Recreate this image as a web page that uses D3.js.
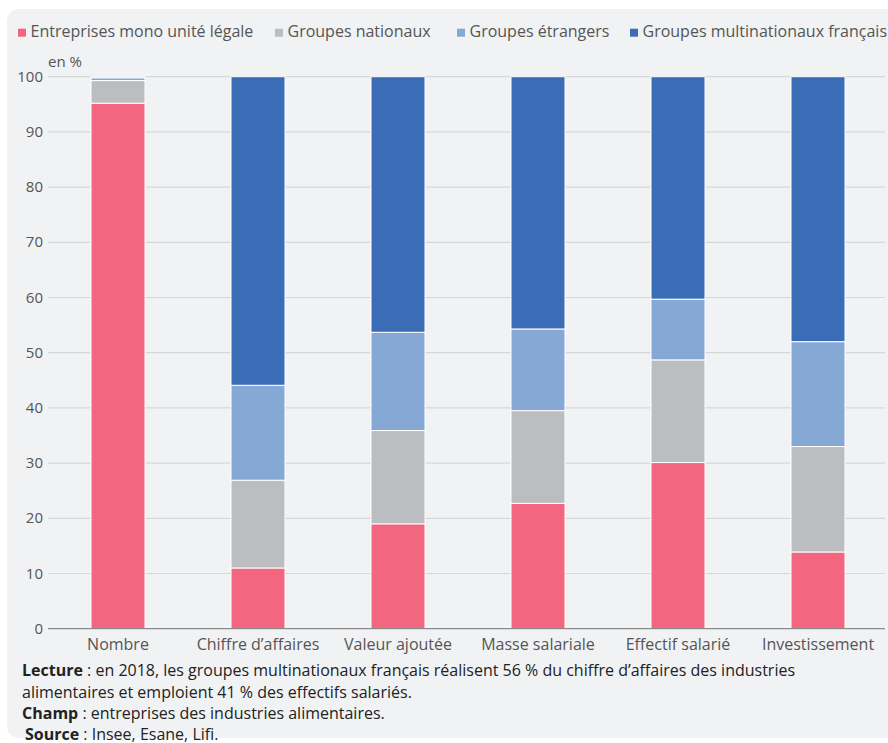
<!DOCTYPE html>
<meta charset="utf-8">

<head>
  <script src="https://d3js.org/d3.v7.min.js"></script>
  <style>
    body { margin: 0; background: #fff; }
    svg text { font-family: "Open Sans", sans-serif; }
  </style>
</head>

<body>
  <svg id="root"></svg>

  <script>
    // data (en %)
    const categories = ["Nombre", "Chiffre d\u2019affaires", "Valeur ajoutée", "Masse salariale", "Effectif salarié", "Investissement"];
    const seriesNames = ["Entreprises mono unité légale", "Groupes nationaux", "Groupes étrangers", "Groupes multinationaux français"];
    const monoUnite = [95.2, 11.0, 19.0, 22.7, 30.1, 13.9];
    const groupesNationaux = [4.1, 15.9, 16.9, 16.8, 18.6, 19.1];
    const groupesEtrangers = [0.5, 17.2, 17.8, 14.8, 11.0, 19.0];
    const multinationauxFr = [0.2, 55.9, 46.3, 45.7, 40.3, 48.0];
    const yTicks = [0, 10, 20, 30, 40, 50, 60, 70, 80, 90, 100];
    const colors = ["#f26680", "#bcbdc0", "#86a8d5", "#3a6db5"];

    const W = 888, H = 743;
    const svg = d3.select("#root").attr("width", W).attr("height", H);

    // background panel
    svg.append("rect")
      .attr("x", 7).attr("y", 9)
      .attr("width", W + 20).attr("height", 729)
      .attr("rx", 12)
      .attr("fill", "#f1f2f4");

    const table = categories.map((c, i) => ({
      cat: c,
      s0: monoUnite[i], s1: groupesNationaux[i], s2: groupesEtrangers[i], s3: multinationauxFr[i]
    }));
    const stack = d3.stack().keys(["s0", "s1", "s2", "s3"])(table);

    const x = d3.scaleBand().domain(categories).range([48, 888])
      .paddingInner(0.6143).paddingOuter(0.30715);
    const y = d3.scaleLinear([0, 100], [628.7, 76.7]);

    // gridlines
    svg.append("g")
      .selectAll("line")
      .data(yTicks.filter(d => d > 0))
      .join("line")
      .attr("x1", 48).attr("x2", 885)
      .attr("y1", d => y(d)).attr("y2", d => y(d))
      .attr("stroke", "#d6d7d9")
      .attr("stroke-width", 1.2);

    // y labels
    svg.append("g")
      .selectAll("text")
      .data(yTicks)
      .join("text")
      .attr("x", 43)
      .attr("y", d => y(d) + 5)
      .attr("text-anchor", "end")
      .attr("font-size", 15)
      .attr("fill", "#555")
      .text(d => d);

    svg.append("text")
      .attr("x", 48).attr("y", 67)
      .attr("font-size", 15)
      .attr("fill", "#555")
      .text("en %");

    // bars
    svg.append("g")
      .selectAll("g")
      .data(stack)
      .join("g")
      .attr("fill", (d, i) => colors[i])
      .selectAll("rect")
      .data(d => d)
      .join("rect")
      .attr("x", d => x(d.data.cat))
      .attr("width", x.bandwidth())
      .attr("y", d => y(d[1]))
      .attr("height", d => y(d[0]) - y(d[1]))
      .attr("stroke", "#fff")
      .attr("stroke-width", 1);

    // axis line
    svg.append("line")
      .attr("x1", 48).attr("x2", 885)
      .attr("y1", y(0)).attr("y2", y(0))
      .attr("stroke", "#8a8b8d")
      .attr("stroke-width", 1.3);

    // x labels
    svg.append("g")
      .selectAll("text")
      .data(categories)
      .join("text")
      .attr("x", d => x(d) + x.bandwidth() / 2)
      .attr("y", 650)
      .attr("text-anchor", "middle")
      .attr("font-size", 16)
      .attr("fill", "#555")
      .text(d => d);

    // legend
    const legendX = [18, 275, 457, 630];
    const legend = svg.append("g")
      .selectAll("g")
      .data(seriesNames)
      .join("g")
      .attr("transform", (d, i) => `translate(${legendX[i]},0)`);
    legend.append("rect")
      .attr("x", 0).attr("y", 28.7)
      .attr("width", 8).attr("height", 8)
      .attr("fill", (d, i) => colors[i]);
    legend.append("text")
      .attr("x", 12.5).attr("y", 37)
      .attr("font-size", 16)
      .attr("fill", "#555")
      .text(d => d);

    // footer notes
    const notes = [
      { b: "Lecture", t: " : en 2018, les groupes multinationaux français réalisent 56 % du chiffre d\u2019affaires des industries", x: 22, y: 676 },
      { b: "", t: "alimentaires et emploient 41 % des effectifs salariés.", x: 22, y: 698 },
      { b: "Champ", t: " : entreprises des industries alimentaires.", x: 22, y: 719 },
      { b: "Source", t: " : Insee, Esane, Lifi.", x: 25, y: 740 }
    ];
    const nt = svg.append("g")
      .selectAll("text")
      .data(notes)
      .join("text")
      .attr("x", d => d.x).attr("y", d => d.y)
      .attr("font-size", 16)
      .attr("fill", "#222");
    nt.append("tspan").attr("font-weight", "bold").text(d => d.b);
    nt.append("tspan").text(d => d.t);
  </script>
</body>
